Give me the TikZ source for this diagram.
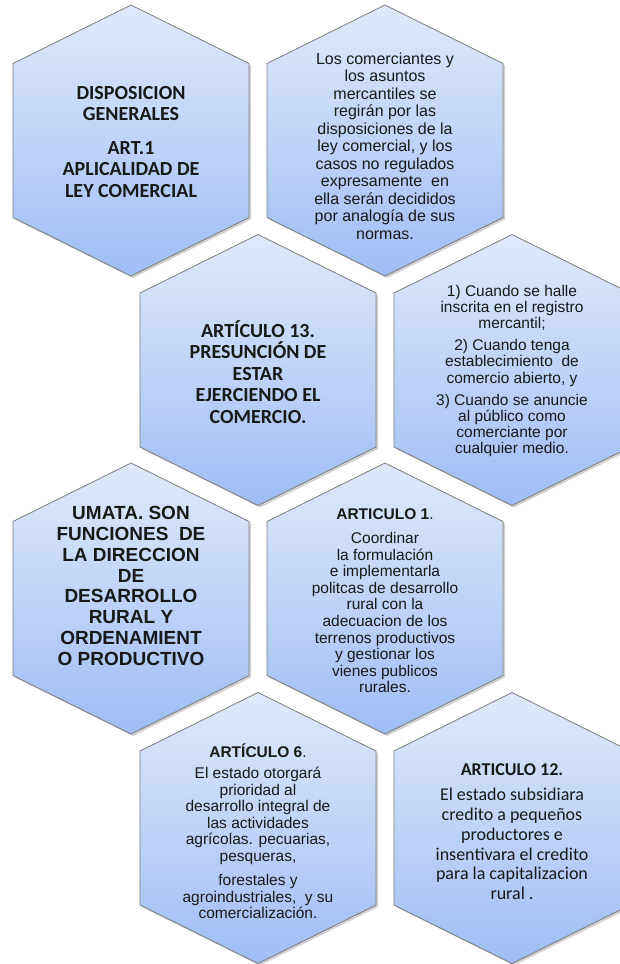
\documentclass[tikz,border=0pt]{standalone}
\usepackage{fontspec}
\setmainfont{Liberation Sans}
\newfontfamily\carl{Carlito}
\newfontfamily\arl{Liberation Sans}
\definecolor{hexTop}{RGB}{224,233,251}
\definecolor{hexBot}{RGB}{158,190,245}
\definecolor{hexLine}{RGB}{125,125,125}
\definecolor{txt}{RGB}{25,25,25}
\tikzset{
  hexfill/.style={top color=hexTop, bottom color=hexBot, draw=hexLine, line width=0.8pt},
  hexshadow/.style={fill=black, opacity=0.18},
  calbold/.style={align=center, text=txt, font=\carl\bfseries\fontsize{20}{21.5}\selectfont},
  arialtxt/.style={align=center, text=txt, font=\arl\fontsize{16}{17.5}\selectfont},
  arialsmall/.style={align=center, text=txt, font=\arl\fontsize{15.5}{16.2}\selectfont},
  arialbig/.style={align=center, text=txt, font=\arl\bfseries\fontsize{19}{20.8}\selectfont},
  caltxt/.style={align=center, text=txt, font=\carl\fontsize{18}{19.8}\selectfont},
}
\newcommand{\hexcell}[3]{%
  \begin{scope}[shift={(#2,#3)}]
    \fill[hexshadow] (2,-133.5) -- (120,-75) -- (120,79) -- (2,137.5) -- (-116,79) -- (-116,-75) -- cycle;
    \path[hexfill] (0,-135.5) -- (118,-77) -- (118,77) -- (0,135.5) -- (-118,77) -- (-118,-77) -- cycle;
    \coordinate (#1) at (0,0);
  \end{scope}}
\begin{document}
\begin{tikzpicture}[x=1pt,y=-1pt]
\useasboundingbox (0,0) rectangle (620,964);
\fill[white] (0,0) rectangle (620,964);
\clip (0,0) rectangle (620,964);
\hexcell{c1}{131}{140.5}
\hexcell{c2}{385}{140.5}
\hexcell{c3}{258}{370}
\hexcell{c4}{512}{370}
\hexcell{c5}{131}{598.5}
\hexcell{c6}{385}{598.5}
\hexcell{c7}{258}{828}
\hexcell{c8}{512}{828}

\node[calbold] (t1) at (131,142) {DISPOSICION\\GENERALES\\[12pt]ART.1\\APLICALIDAD DE\\LEY COMERCIAL};
\node[arialtxt] (t2) at (385,146) {Los comerciantes y\\los asuntos\\mercantiles se\\regirán por las\\disposiciones de la\\ley comercial, y los\\casos no regulados\\expresamente\ \ en\\ella serán decididos\\por analogía de sus\\normas.};
\node[calbold] (t3) at (258,372) {ARTÍCULO 13.\\PRESUNCIÓN DE\\ESTAR\\EJERCIENDO EL\\COMERCIO.};
\node[arialsmall] (t4) at (512,371) {1) Cuando se halle\\inscrita en el registro\\mercantil;\\[6pt]2) Cuando tenga\\establecimiento\ \ de\\comercio abierto, y\\[6pt]3) Cuando se anuncie\\al público como\\comerciante por\\cualquier medio.};
\node[arialbig] (t5) at (131,586) {UMATA. SON\\FUNCIONES\ \ DE\\LA DIRECCION\\DE\\DESARROLLO\\RURAL Y\\ORDENAMIENT\\O PRODUCTIVO};
\node[arialsmall, font=\arl\fontsize{15.5}{16.6}\selectfont] (t6) at (385,601) {{\bfseries ARTICULO 1}.\\[7pt]Coordinar\\la formulación\\e implementarla\\politcas de desarrollo\\rural con la\\adecuacion de los\\terrenos productivos\\y gestionar los\\vienes publicos\\rurales.};
\node[arialsmall, font=\arl\fontsize{15.5}{16.5}\selectfont] (t7) at (258,831) {{\bfseries ARTÍCULO 6}.\\[5pt]El estado otorgará\\prioridad al\\desarrollo integral de\\las actividades\\agrícolas. pecuarias,\\pesqueras,\\[8pt]forestales y\\agroindustriales,\ \ y su\\comercialización.};
\node[caltxt] (t8) at (512,832) {{\bfseries ARTICULO 12.}\\[5pt]El estado subsidiara\\credito a pequeños\\productores e\\insentivara el credito\\para la capitalizacion\\rural .};
\end{tikzpicture}
\end{document}
